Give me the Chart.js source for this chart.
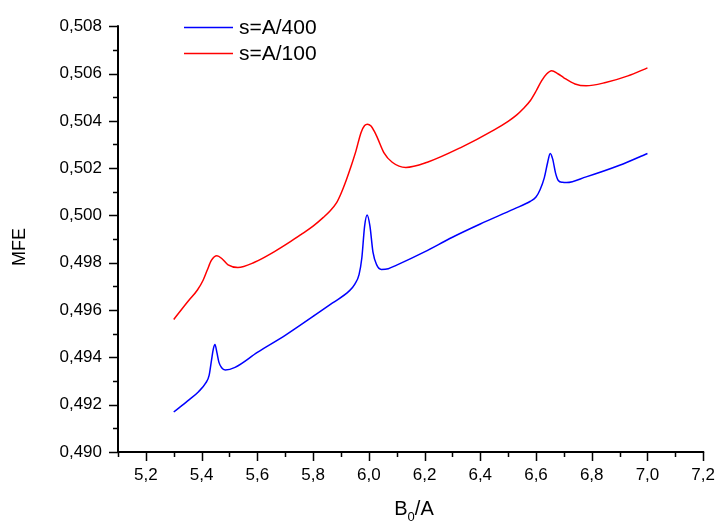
<!DOCTYPE html>
<html>
<head>
<meta charset="utf-8">
<script src="https://cdn.jsdelivr.net/npm/chart.js@4/dist/chart.umd.min.js"></script>
<style>
  html, body { margin: 0; padding: 0; background: #fff; }
</style>
</head>
<body>
<canvas id="chartCanvas" width="728" height="526"></canvas>
<script>
// 數據
const seriesLabels = ["s=A/400", "s=A/100"];
const seriesColors = ["#0000ff", "#ff0000"];

const blueX = [5.30, 5.35, 5.39, 5.415, 5.427, 5.436, 5.442, 5.448, 5.455, 5.462, 5.472, 5.485, 5.52, 5.60, 5.70,
  5.80, 5.87, 5.93, 5.95, 5.965, 5.975, 5.985, 5.994, 6.004, 6.015, 6.028, 6.045, 6.07, 6.10, 6.20, 6.30, 6.40,
  6.52, 6.58, 6.60, 6.615, 6.63, 6.642, 6.651, 6.66, 6.67, 6.68, 6.695, 6.71, 6.78, 6.90, 7.00];
const blueY = [0.49169, 0.49216, 0.49256, 0.49292, 0.49324, 0.49392, 0.49435, 0.49454, 0.49420, 0.49380, 0.49356,
  0.49347, 0.49358, 0.49421, 0.49493, 0.49573, 0.49630, 0.49681, 0.49710, 0.49750, 0.49820, 0.49955, 0.50002,
  0.49956, 0.49845, 0.49792, 0.49772, 0.49775, 0.49790, 0.49846, 0.49908, 0.49964, 0.50027, 0.50060, 0.50078,
  0.50110, 0.50160, 0.50225, 0.50262, 0.50238, 0.50180, 0.50148, 0.50140, 0.50139, 0.50163, 0.50212, 0.50262];

const redX = [5.30, 5.35, 5.385, 5.405, 5.42, 5.435, 5.455, 5.475, 5.495, 5.53, 5.59, 5.66, 5.72, 5.76, 5.80,
  5.837, 5.86, 5.884, 5.90, 5.919, 5.937, 5.954, 5.972, 5.985, 5.995, 6.008, 6.02, 6.031, 6.054, 6.084, 6.133,
  6.21, 6.33, 6.45, 6.50, 6.53, 6.555, 6.58, 6.60, 6.62, 6.638, 6.656, 6.68, 6.70, 6.74, 6.78, 6.85, 6.93, 7.00];
const redY = [0.49560, 0.49635, 0.49685, 0.49725, 0.49768, 0.49810, 0.49830, 0.49815, 0.49791, 0.49780, 0.49802,
  0.49846, 0.49890, 0.49922, 0.49955, 0.49992, 0.50018, 0.50053, 0.50092, 0.50149, 0.50210, 0.50273, 0.50350,
  0.50380, 0.50386, 0.50378, 0.50355, 0.50328, 0.50266, 0.50225, 0.50203, 0.50225, 0.50287, 0.50362, 0.50398,
  0.50424, 0.50452, 0.50486, 0.50525, 0.50569, 0.50598, 0.50612, 0.50598, 0.50582, 0.50556, 0.50548, 0.50562,
  0.50590, 0.50624];

// 刻度
const xTicks = [5.2, 5.4, 5.6, 5.8, 6.0, 6.2, 6.4, 6.6, 6.8, 7.0, 7.2];
const yTicks = [0.490, 0.492, 0.494, 0.496, 0.498, 0.500, 0.502, 0.504, 0.506, 0.508];
const xMin = 5.1, xMax = 7.2, xMinorStep = 0.1;
const yMin = 0.490, yMax = 0.508, yMinorStep = 0.001;

const xTitleMain = "B", xTitleSub = "0", xTitleRest = "/A";
const yTitle = "MFE";

const FONT = "Arial, 'Liberation Sans', sans-serif";

function toPoints(xs, ys) {
	return xs.map((x, i) => ({ x: x, y: ys[i] }));
}

// 坐標軸、刻度、標題、圖例
const axisDecor = {
	id: "axisDecor",
	afterDraw(chart) {
		const { ctx, chartArea: a, scales } = chart;
		const xs = scales.x, ys = scales.y;
		ctx.save();
		ctx.strokeStyle = "#000";
		ctx.lineWidth = 2;
		ctx.lineCap = "square";
		ctx.beginPath();
		ctx.moveTo(a.left, a.top);
		ctx.lineTo(a.left, a.bottom);
		ctx.lineTo(a.right, a.bottom);
		ctx.stroke();

		ctx.lineWidth = 1.5;
		ctx.lineCap = "butt";
		ctx.beginPath();
		const ny = Math.round((yMax - yMin) / yMinorStep);
		for (let i = 0; i <= ny; i++) {
			const py = Math.round(ys.getPixelForValue(yMin + i * yMinorStep)) + 0.5;
			const len = i % 2 === 0 ? 9 : 5;
			ctx.moveTo(a.left, py);
			ctx.lineTo(a.left - len, py);
		}
		const nx = Math.round((xMax - xMin) / xMinorStep);
		for (let i = 0; i <= nx; i++) {
			const px = Math.round(xs.getPixelForValue(xMin + i * xMinorStep)) + 0.5;
			const len = i % 2 === 1 ? 9 : 5;
			ctx.moveTo(px, a.bottom);
			ctx.lineTo(px, a.bottom + len);
		}
		ctx.stroke();

		// x 標題
		ctx.fillStyle = "#000";
		ctx.textBaseline = "alphabetic";
		ctx.textAlign = "left";
		ctx.font = "20px " + FONT;
		const wMain = ctx.measureText(xTitleMain).width;
		const wRest = ctx.measureText(xTitleRest).width;
		ctx.font = "13px " + FONT;
		const wSub = ctx.measureText(xTitleSub).width;
		const total = wMain + wSub + wRest;
		let tx = 414 - total / 2;
		const base = 515;
		ctx.font = "20px " + FONT;
		ctx.fillText(xTitleMain, tx, base);
		tx += wMain;
		ctx.font = "13px " + FONT;
		ctx.fillText(xTitleSub, tx, base + 6);
		tx += wSub;
		ctx.font = "20px " + FONT;
		ctx.fillText(xTitleRest, tx, base);

		// y 標題
		ctx.save();
		ctx.translate(25, 247);
		ctx.rotate(-Math.PI / 2);
		ctx.textAlign = "center";
		ctx.font = "18px " + FONT;
		ctx.fillText(yTitle, 0, 0);
		ctx.restore();

		// 圖例
		ctx.font = "21px " + FONT;
		ctx.textBaseline = "middle";
		chart.data.datasets.forEach((ds, i) => {
			const ly = 27.5 + i * 26;
			ctx.strokeStyle = ds.borderColor;
			ctx.lineWidth = 1.5;
			ctx.beginPath();
			ctx.moveTo(184, ly);
			ctx.lineTo(233, ly);
			ctx.stroke();
			ctx.fillText(ds.label, 239, ly + 1);
		});
		ctx.restore();
	},
};

const ctx = document.getElementById("chartCanvas").getContext("2d");
const chart = new Chart(ctx, {
	type: "line",
	data: {
		datasets: [
			{
				label: seriesLabels[0],
				data: toPoints(blueX, blueY),
				borderColor: seriesColors[0],
				borderWidth: 1.5,
				pointRadius: 0,
				cubicInterpolationMode: "monotone",
				fill: false,
			},
			{
				label: seriesLabels[1],
				data: toPoints(redX, redY),
				borderColor: seriesColors[1],
				borderWidth: 1.5,
				pointRadius: 0,
				cubicInterpolationMode: "monotone",
				fill: false,
			},
		],
	},
	options: {
		responsive: false,
		animation: false,
		devicePixelRatio: 1,
		layout: { padding: { top: 16, right: 15, bottom: 0, left: 0 } },
		plugins: {
			legend: { display: false },
			tooltip: { enabled: false },
		},
		scales: {
			x: {
				type: "linear",
				min: xMin,
				max: xMax,
				afterBuildTicks: (s) => { s.ticks = xTicks.map((v) => ({ value: v })); },
				afterFit: (s) => { s.height = 74; },
				grid: { display: false, drawTicks: false },
				border: { display: false },
				ticks: {
					autoSkip: false,
					maxRotation: 0,
					padding: 13,
					color: "#000",
					font: { family: FONT, size: 17 },
					callback: (v) => Number(v).toFixed(1).replace(".", ","),
				},
			},
			y: {
				min: yMin,
				max: yMax,
				afterBuildTicks: (s) => { s.ticks = yTicks.map((v) => ({ value: v })); },
				afterFit: (s) => { s.width = 118; },
				grid: { display: false, drawTicks: false },
				border: { display: false },
				ticks: {
					autoSkip: false,
					padding: 16,
					color: "#000",
					font: { family: FONT, size: 17 },
					callback: (v) => Number(v).toFixed(3).replace(".", ","),
				},
			},
		},
	},
	plugins: [axisDecor],
});
</script>
</body>
</html>
